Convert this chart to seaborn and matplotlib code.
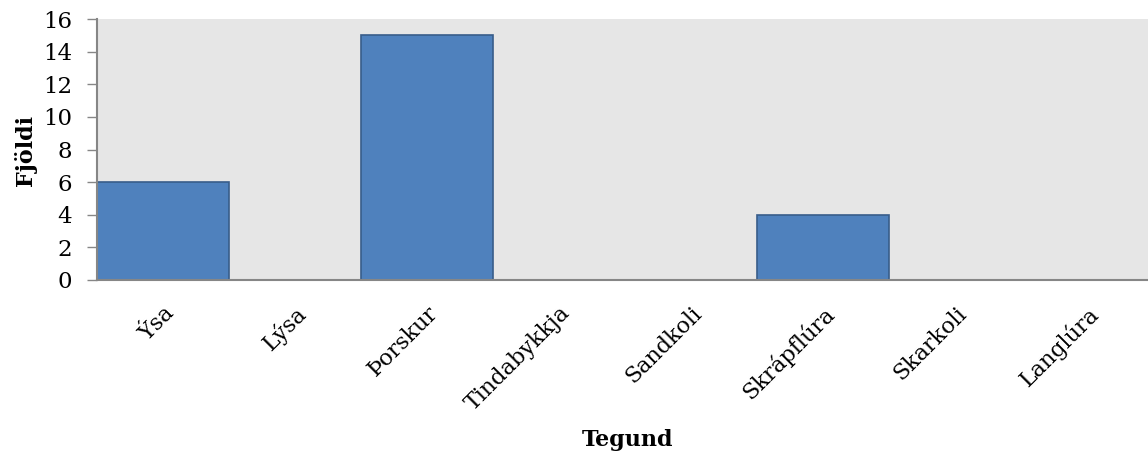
import matplotlib
matplotlib.use("Agg")
import matplotlib.pyplot as plt
import seaborn as sns
import pandas as pd

categories = ["Ýsa", "Lýsa", "Þorskur", "Tindabykkja", "Sandkoli", "Skrápflúra", "Skarkoli", "Langlúra"]
counts = [6, 0, 15, 0, 0, 4, 0, 0]
y_ticks = [0, 2, 4, 6, 8, 10, 12, 14, 16]

sns.set_theme(style="white")
plt.rcParams["font.family"] = ["DejaVu Serif"]
plt.rcParams["text.color"] = "black"
plt.rcParams["xtick.color"] = "black"
plt.rcParams["ytick.color"] = "black"

df = pd.DataFrame({"Tegund": categories, "Fjöldi": counts})

W, H = 1148, 461
fig = plt.figure(figsize=(W / 100, H / 100), dpi=100)
left, top, bottom = 97, 19, 280
cat_w = 132
ax = fig.add_axes([left / W, 1 - bottom / H, 8 * cat_w / W, (bottom - top) / H])
ax.set_facecolor("#E6E6E6")

sns.barplot(data=df, x="Tegund", y="Fjöldi", ax=ax, width=1.0, color="#4F81BD",
            edgecolor="#385D8A", linewidth=1.2, saturation=1)

ax.set_xlim(-0.5, 7.5)
ax.set_ylim(0, 16)
ax.set_yticks(y_ticks)
ax.set_yticklabels([str(v) for v in y_ticks], fontsize=16.5)
ax.tick_params(axis="y", which="both", left=True, length=7, width=1, color="#868686",
               labelcolor="black", pad=11)
ax.tick_params(axis="x", bottom=False, pad=10, labelcolor="black")
for lab in ax.get_xticklabels():
    lab.set_rotation(45)
    lab.set_ha("right")
    lab.set_va("top")
    lab.set_rotation_mode("anchor")
    lab.set_fontsize(16)

for s in ["top", "right"]:
    ax.spines[s].set_visible(False)
for s in ["left", "bottom"]:
    ax.spines[s].set_color("#868686")
    ax.spines[s].set_linewidth(1.5)

ax.set_xlabel("")
ax.set_ylabel("")
fig.text(25 / W, 1 - 150 / H, "Fjöldi", rotation=90, fontsize=16, fontweight="bold",
         ha="center", va="center", color="black")
fig.text(627 / W, 1 - 440 / H, "Tegund", fontsize=16, fontweight="bold",
         ha="center", va="center", color="black")

fig.savefig("out.png", dpi=100)
